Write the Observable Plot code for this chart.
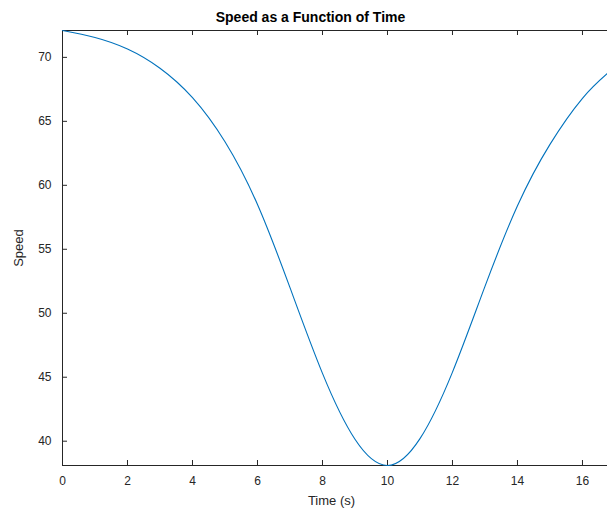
<!DOCTYPE html>
<html>
<head>
<meta charset="utf-8">
<script src="https://cdn.jsdelivr.net/npm/d3@7"></script>
<script src="https://cdn.jsdelivr.net/npm/@observablehq/plot@0.6"></script>
<style>
  html, body { margin: 0; padding: 0; background: #fff; }
  #chart svg { display: block; }
</style>
</head>
<body>
<div id="chart"></div>
<script>
// Data
const time  = [0, 1, 2, 3, 4, 5, 6, 7, 8, 9, 10, 11, 12, 13, 14, 15, 16, 16.77];
const speed = [72.1, 71.55, 70.65, 69.15, 66.85, 63.4, 58.5, 52.0, 45.3, 40.15, 38.1,
               40.2, 45.4, 52.1, 58.4, 63.2, 66.8, 68.75];
const xTicks = [0, 2, 4, 6, 8, 10, 12, 14, 16];
const yTicks = [40, 45, 50, 55, 60, 65, 70];
const xDomain = [0, 16.77];
const yDomain = [38.1, 72.1];
const titleText = "Speed as a Function of Time";
const xLabel = "Time (s)";
const yLabel = "Speed";

const data = time.map((t, i) => ({t, v: speed[i]}));

const W = 607, H = 514, mL = 62, mR = 0, mT = 30, mB = 49;
const plotW = W - mL - mR, plotH = H - mT - mB;
const axisColor = "#262626";
const tickLen = 5;

const chart = Plot.plot({
  width: W, height: H,
  marginLeft: mL, marginRight: mR, marginTop: mT, marginBottom: mB,
  style: {fontFamily: "'Liberation Sans', Arial, Helvetica, sans-serif", fontSize: "12px", color: axisColor, background: "#fff", overflow: "visible"},
  x: {domain: xDomain, ticks: xTicks, label: null},
  y: {domain: yDomain, ticks: yTicks, label: null},
  marks: [
    // box lines (left, bottom, top)
    Plot.ruleX([xDomain[0]], {stroke: axisColor, strokeWidth: 1}),
    Plot.ruleY([yDomain[0]], {stroke: axisColor, strokeWidth: 1}),
    Plot.ruleY([yDomain[1]], {stroke: axisColor, strokeWidth: 1}),
    // inward ticks
    Plot.ruleX(xTicks, {stroke: axisColor, insetTop: plotH - tickLen}),
    Plot.ruleX(xTicks, {stroke: axisColor, insetBottom: plotH - tickLen}),
    Plot.ruleY(yTicks, {stroke: axisColor, insetRight: plotW - tickLen}),
    // the curve
    Plot.line(data, {x: "t", y: "v", curve: "natural", stroke: "#0072BD", strokeWidth: 1.1}),
    // tick labels
    Plot.axisX(xTicks, {tickSize: 0, tickPadding: 11, label: null, fill: axisColor}),
    Plot.axisY(yTicks, {tickSize: 0, tickPadding: 11, label: null, fill: axisColor}),
    // titles
    Plot.text([titleText], {frameAnchor: "top-left", textAnchor: "middle", dx: 310 - mL, dy: -18, fontWeight: "bold", fontSize: 14, fill: "#000"}),
    Plot.text([xLabel], {frameAnchor: "bottom-left", textAnchor: "middle", dx: 331 - mL, dy: 39, fontSize: 13, fill: axisColor}),
    Plot.text([yLabel], {frameAnchor: "left", textAnchor: "middle", dx: 18 - mL, rotate: -90, fontSize: 13, fill: axisColor})
  ]
});
document.getElementById("chart").appendChild(chart);
</script>
</body>
</html>
